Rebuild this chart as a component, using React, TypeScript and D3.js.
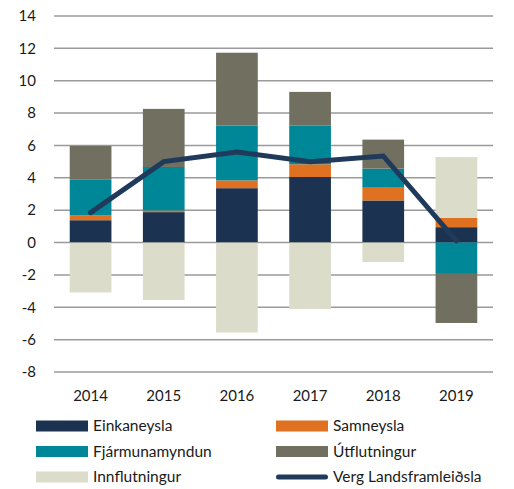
import * as d3 from "d3";
import { useEffect, useRef } from "react";

const years = ["2014", "2015", "2016", "2017", "2018", "2019"];
const seriesNames = ["Einkaneysla", "Samneysla", "Fjármunamyndun", "Útflutningur", "Innflutningur"];
const einkaneysla = [1.38, 1.88, 3.36, 4.05, 2.6, 0.95];
const samneysla = [0.29, 0.1, 0.48, 0.79, 0.79, 0.58];
const fjarmunamyndun = [2.21, 2.69, 3.39, 2.38, 1.18, -1.94];
const utflutningur = [2.09, 3.59, 4.5, 2.09, 1.79, -3.03];
const innflutningur = [-3.08, -3.55, -5.56, -4.11, -1.2, 3.75];
const landsframleidsla = [1.85, 5.0, 5.6, 5.0, 5.35, 0.1];
const yTicks = [-8, -6, -4, -2, 0, 2, 4, 6, 8, 10, 12, 14];
const lineName = "Verg Landsframleiðsla";

const colors = ["#1b3350", "#e07121", "#008797", "#716f5f", "#dcdccb"];
const lineColor = "#1f3a5a";
const font = "Lato, 'Open Sans', sans-serif";

const App = () => {
    const chartRef = useRef(null);

    useEffect(() => {
        const svg = d3.select(chartRef.current);
        svg.selectAll("*").remove();

        const margin = { top: 16, bottom: 117, left: 54, right: 21 };
        const width = 514, height = 489;

        const scaleX = d3.scaleBand()
            .domain(years)
            .range([margin.left, width - margin.right])
            .paddingInner(0.43)
            .paddingOuter(0.215);

        const scaleY = d3.scaleLinear()
            .domain([-8, 14])
            .range([height - margin.bottom, margin.top]);

        // gridlines
        svg.append("g")
            .selectAll("line")
            .data(yTicks)
            .enter()
            .append("line")
            .attr("x1", margin.left)
            .attr("x2", width - margin.right)
            .attr("y1", d => scaleY(d))
            .attr("y2", d => scaleY(d))
            .style("stroke", "#9a9a9a")
            .style("stroke-width", 1.5);

        // y labels
        svg.append("g")
            .selectAll("text")
            .data(yTicks)
            .enter()
            .append("text")
            .attr("x", 36)
            .attr("y", d => scaleY(d))
            .attr("dy", "0.35em")
            .attr("text-anchor", "end")
            .style("font-family", font)
            .style("font-size", "15px")
            .style("fill", "#1a1a1a")
            .text(d => d);

        // x labels
        svg.append("g")
            .selectAll("text")
            .data(years)
            .enter()
            .append("text")
            .attr("x", d => scaleX(d) + scaleX.bandwidth() / 2)
            .attr("y", 396)
            .attr("dy", "0.35em")
            .attr("text-anchor", "middle")
            .style("font-family", font)
            .style("font-size", "15px")
            .style("fill", "#1a1a1a")
            .text(d => d);

        // stacked bars
        const table = years.map((y, i) => ({
            year: y,
            Einkaneysla: einkaneysla[i],
            Samneysla: samneysla[i],
            "Fjármunamyndun": fjarmunamyndun[i],
            "Útflutningur": utflutningur[i],
            Innflutningur: innflutningur[i],
        }));
        const stacked = d3.stack()
            .keys(seriesNames)
            .offset(d3.stackOffsetDiverging)(table);

        stacked.forEach((layer, k) => {
            svg.append("g")
                .selectAll("rect")
                .data(layer)
                .enter()
                .append("rect")
                .attr("x", d => scaleX(d.data.year))
                .attr("y", d => scaleY(Math.max(d[0], d[1])))
                .attr("width", scaleX.bandwidth())
                .attr("height", d => Math.abs(scaleY(d[0]) - scaleY(d[1])))
                .style("fill", colors[k]);
        });

        // line
        const line = d3.line()
            .x((d, i) => scaleX(years[i]) + scaleX.bandwidth() / 2)
            .y(d => scaleY(d));
        svg.append("path")
            .datum(landsframleidsla)
            .attr("d", line)
            .style("fill", "none")
            .style("stroke", lineColor)
            .style("stroke-width", 5)
            .style("stroke-linecap", "round");

        // legend
        const legendItems = [
            { name: seriesNames[0], color: colors[0], col: 0, row: 0 },
            { name: seriesNames[1], color: colors[1], col: 1, row: 0 },
            { name: seriesNames[2], color: colors[2], col: 0, row: 1 },
            { name: seriesNames[3], color: colors[3], col: 1, row: 1 },
            { name: seriesNames[4], color: colors[4], col: 0, row: 2 },
            { name: lineName, color: lineColor, col: 1, row: 2, isLine: true },
        ];
        const legend = svg.append("g");
        legendItems.forEach(item => {
            const x0 = item.col === 0 ? 36 : 276;
            const y0 = 426 + item.row * 25.5;
            if (item.isLine) {
                legend.append("line")
                    .attr("x1", x0 + 2.5)
                    .attr("x2", x0 + 52 - 2.5)
                    .attr("y1", y0)
                    .attr("y2", y0)
                    .style("stroke", item.color)
                    .style("stroke-width", 5)
                    .style("stroke-linecap", "round");
            } else {
                legend.append("rect")
                    .attr("x", x0)
                    .attr("y", y0 - 5.5)
                    .attr("width", 52)
                    .attr("height", 11)
                    .style("fill", item.color);
            }
            legend.append("text")
                .attr("x", x0 + 57)
                .attr("y", y0)
                .attr("dy", "0.35em")
                .style("font-family", font)
                .style("font-size", "15.5px")
                .style("fill", "#1a1a1a")
                .text(item.name);
        });
    }, []);

    return (
        <svg ref={chartRef} width={514} height={489}
            style={{ position: "absolute", left: 0, top: 0, background: "#fff" }}></svg>
    );
};

export default App;
